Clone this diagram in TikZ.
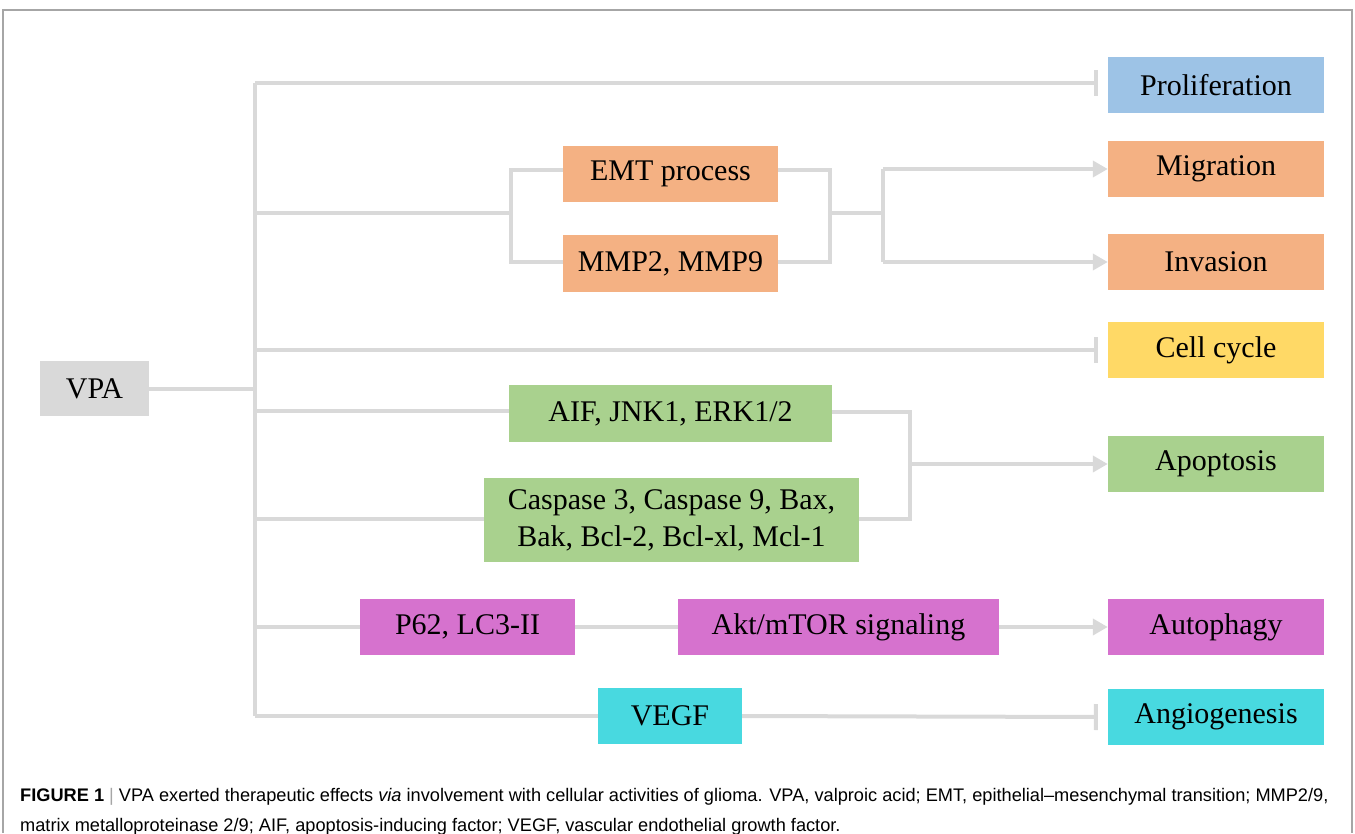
\documentclass[tikz,border=0pt]{standalone}
\usepackage{fontspec}
\setmainfont{Liberation Serif}
\newfontfamily\capfont{Liberation Sans}
\usetikzlibrary{arrows.meta}
\definecolor{lgray}{HTML}{D9D9D9}
\definecolor{cblue}{HTML}{9DC3E6}
\definecolor{corange}{HTML}{F4B183}
\definecolor{cyellow}{HTML}{FFD966}
\definecolor{cgreen}{HTML}{A9D18E}
\definecolor{cmag}{HTML}{D672CE}
\definecolor{ccyan}{HTML}{48D9E0}
\definecolor{framec}{HTML}{A6A6A6}
\tikzset{
  box/.style={fill=#1, draw=none, inner sep=0pt, text=black, font=\fontsize{30}{37}\selectfont, align=center},
  conn/.style={draw=lgray, line width=4pt},
  arr/.style={conn, -{Triangle[length=15pt,width=16pt]}},
  inh/.style={conn, -{Bar[width=26pt,line width=4pt]}},
}
\begin{document}
\begin{tikzpicture}[x=1pt,y=-1pt]
\useasboundingbox (0,0) rectangle (1355,833);
\draw[framec, line width=1.2pt] (3,833) -- (3,10) -- (1352,10) -- (1352,833);
% right column
\node[box=cblue, minimum width=216pt, minimum height=56pt] (prol) at (1216,85) {Proliferation};
\node[box=corange, minimum width=216pt, minimum height=56pt] (migr) at (1216,169) {Migration};
\node[box=corange, minimum width=216pt, minimum height=56pt] (inva) at (1216,262) {Invasion};
\node[box=cyellow, minimum width=216pt, minimum height=56pt] (cycl) at (1216,350) {Cell cycle};
\node[box=cgreen, minimum width=216pt, minimum height=56pt] (apop) at (1216,464) {Apoptosis};
\node[box=cmag, minimum width=216pt, minimum height=56pt] (auto) at (1216,627) {Autophagy};
\node[box=ccyan, minimum width=216pt, minimum height=56pt] (angi) at (1216,717) {Angiogenesis};
% VPA
\node[box=lgray, minimum width=109pt, minimum height=55pt] (vpa) at (94.5,388.5) {VPA};
% middle
\node[box=corange, minimum width=215pt, minimum height=56pt] (emt) at (670.5,174) {EMT process};
\node[box=corange, minimum width=215pt, minimum height=57pt] (mmp) at (670.5,263.5) {MMP2, MMP9};
\node[box=cgreen, minimum width=323pt, minimum height=57pt] (aif) at (670.5,413.5) {AIF, JNK1, ERK1/2};
\node[box=cgreen, minimum width=375pt, minimum height=84pt] (casp) at (671.5,520) {Caspase 3, Caspase 9, Bax,\\Bak, Bcl-2, Bcl-xl, Mcl-1};
\node[box=cmag, minimum width=215pt, minimum height=56pt] (p62) at (467.5,627) {P62, LC3-II};
\node[box=cmag, minimum width=321pt, minimum height=56pt] (akt) at (838.5,627) {Akt/mTOR signaling};
\node[box=ccyan, minimum width=144pt, minimum height=56pt] (vegf) at (670,716) {VEGF};
% trunk
\coordinate (ttop) at (255,83);
\coordinate (tbot) at (255,716);
\draw[conn] (ttop) -- (tbot);
\draw[conn] (vpa.east) -- (vpa.east -| tbot);
% proliferation
\draw[inh] (ttop) -- ([xshift=-10pt]prol.west |- ttop);
% EMT branch
\coordinate (e1) at (511,213);
\draw[conn] (255,213) -- (e1);
\draw[conn] (emt.west |- 0,170) -- (511,170) -- (511,262) -- (mmp.west |- 0,262);
\coordinate (e2) at (830,213);
\draw[conn] (emt.east |- 0,170) -- (830,170) -- (830,262) -- (mmp.east |- 0,262);
\coordinate (e3) at (883,213);
\draw[conn] (e2) -- (e3);
\draw[conn] (e3 |- migr.west) -- (e3 |- inva.west);
\draw[arr] (e3 |- migr.west) -- (migr.west);
\draw[arr] (e3 |- inva.west) -- (inva.west);
% cell cycle
\coordinate (cc0) at (255,350);
\draw[inh] (cc0) -- ([xshift=-10pt]cycl.west);
% apoptosis
\draw[conn] (255,411) -- (aif.west |- 0,411);
\draw[conn] (255,519) -- (casp.west |- 0,519);
\coordinate (a1) at (910,464);
\draw[conn] (aif.east |- 0,412) -- (910,412) -- (910,519) -- (casp.east |- 0,519);
\draw[arr] (a1) -- (apop.west);
% autophagy
\draw[conn] (255,627) -- (p62.west);
\draw[conn] (p62.east) -- (akt.west);
\draw[arr] (akt.east) -- (auto.west);
% angiogenesis
\draw[conn] (tbot) -- (vegf.west);
\draw[inh] (vegf.east) -- ([xshift=-10pt]angi.west);
% caption
\node[anchor=base west, inner sep=0pt, font=\capfont\fontsize{18.2}{29.5}\selectfont, align=left] (cap) at (20,831)
 {\textbf{FIGURE 1} \textcolor{framec}{|} VPA exerted therapeutic effects \textit{via} involvement with cellular activities of glioma. VPA, valproic acid; EMT, epithelial–mesenchymal transition; MMP2/9,\\matrix metalloproteinase 2/9; AIF, apoptosis-inducing factor; VEGF, vascular endothelial growth factor.};
\end{tikzpicture}
\end{document}
